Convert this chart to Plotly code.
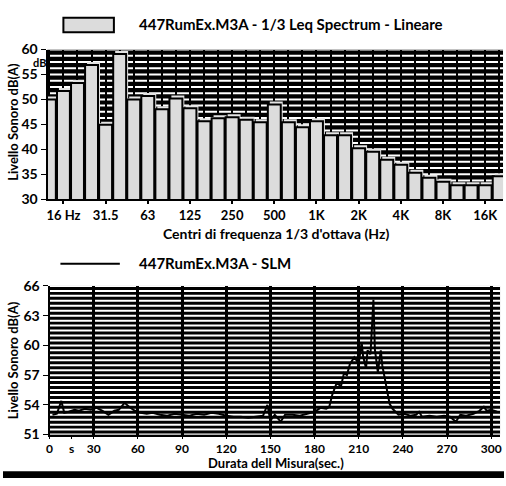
import plotly.graph_objects as go

# ---- data: 1/3 octave Leq spectrum ----
bands = ["12.5", "16", "20", "25", "31.5", "40", "50", "63", "80", "100", "125", "160",
         "200", "250", "315", "400", "500", "630", "800", "1K", "1.25K", "1.6K", "2K",
         "2.5K", "3.15K", "4K", "5K", "6.3K", "8K", "10K", "12.5K", "16K", "20K"]
leq = [50.0, 51.7, 53.3, 56.9, 44.9, 59.1, 50.0, 50.7, 48.0, 50.2, 48.2, 45.6,
       46.2, 46.4, 45.9, 45.4, 49.0, 45.4, 44.4, 45.6, 42.8, 42.8, 40.2,
       39.5, 37.9, 36.9, 35.3, 34.3, 33.5, 32.8, 32.8, 32.8, 34.6]
spec_tick_bands = ["16", "31.5", "63", "125", "250", "500", "1K", "2K", "4K", "8K", "16K"]
spec_tick_text = ["16 Hz", "31.5", "63", "125", "250", "500", "1K", "2K", "4K", "8K", "16K"]
spec_y_ticks = [30, 35, 40, 45, 50, 55, 60]

# ---- data: SLM time history ----
t_sec = [2, 5, 8, 10, 13, 17, 20, 24, 28, 32, 36, 40, 44, 47, 51, 54, 58, 62, 66, 70,
         75, 80, 85, 90, 95, 100, 105, 110, 115, 120, 125, 130, 135, 140, 145, 148,
         150, 153, 157, 160, 165, 170, 175, 180, 184, 188, 190, 192, 195, 198, 200,
         202, 204, 207, 210, 212, 213, 215, 216, 218, 220, 221, 223, 225, 226, 229,
         231, 233, 237, 241, 245, 249, 251, 253, 258, 263, 268, 272, 276, 279, 283,
         288, 292, 295, 297, 300, 304]
slm = [53.0, 53.1, 54.4, 53.2, 53.3, 53.5, 53.4, 53.6, 53.5, 53.7, 53.4, 53.0, 53.4,
       53.5, 54.2, 53.8, 53.4, 53.2, 53.1, 53.2, 53.0, 52.9, 53.1, 53.0, 52.9, 53.1,
       53.0, 53.2, 53.1, 52.9, 52.8, 52.8, 52.7, 52.8, 52.9, 54.0, 52.4, 53.0, 52.3,
       53.0, 53.0, 52.9, 53.1, 53.3, 53.7, 53.6, 53.8, 55.0, 56.2, 55.9, 57.2, 57.0,
       58.1, 58.8, 58.2, 60.3, 58.9, 57.7, 59.5, 59.1, 64.6, 59.6, 57.3, 59.5, 58.0,
       55.7, 54.1, 53.6, 53.0, 53.1, 52.9, 53.0, 53.3, 52.8, 52.9, 52.8, 52.9, 52.8,
       52.3, 53.0, 52.9, 53.1, 53.4, 53.8, 53.4, 53.5, 53.3]
time_ticks = [0, 15, 30, 60, 90, 120, 150, 180, 210, 240, 270, 300]
time_tick_text = ["0", "s", "30", "60", "90", "120", "150", "180", "210", "240", "270", "300"]
time_grid = [0, 30, 60, 90, 120, 150, 180, 210, 240, 270, 300]
slm_y_ticks = [51, 54, 57, 60, 63, 66]

legend1 = "447RumEx.M3A - 1/3 Leq Spectrum - Lineare"
legend2 = "447RumEx.M3A - SLM"
ytitle = "Livello Sonoro dB(A)"
xtitle1 = "Centri di frequenza 1/3 d'ottava (Hz)"
xtitle2 = "Durata dell Misura(sec.)"

W, H = 506, 486
FONT = "Lato"

def px(x):
    return x / W

def py(y):
    return 1 - y / H

band_pos = list(range(len(bands)))
tick_pos = [bands.index(b) for b in spec_tick_bands]

fig = go.Figure()

# shadow bars (light rim above/right of each bar)
fig.add_trace(go.Bar(x=band_pos, y=[v + 0.6 for v in leq], width=0.92, offset=-0.32,
                     marker=dict(color="#e4e4e4", line=dict(width=0)),
                     xaxis="x", yaxis="y", showlegend=False, hoverinfo="skip"))
fig.add_trace(go.Bar(x=band_pos, y=leq, width=0.92, offset=-0.46, customdata=bands,
                     marker=dict(color="#dcdcdc", line=dict(color="black", width=2)),
                     hovertemplate="%{customdata} Hz: %{y} dB<extra></extra>",
                     xaxis="x", yaxis="y", showlegend=False))
fig.add_trace(go.Scatter(x=t_sec, y=slm, mode="lines",
                         line=dict(color="black", width=2),
                         xaxis="x2", yaxis="y2", showlegend=False))

tickfont = dict(family=FONT, size=14, color="black", weight="bold")
tickfontx = dict(family=FONT, size=13, color="black", weight="bold")
tickfont2 = dict(family=FONT, size=12, color="black", weight="bold")
titlefont = dict(family=FONT, size=15, color="black", weight="bold")
titlefont1 = dict(family=FONT, size=14, color="black", weight="bold")
titlefont2 = dict(family=FONT, size=13, color="black", weight="bold")

fig.update_layout(
    width=W, height=H, margin=dict(l=0, r=0, t=0, b=0),
    paper_bgcolor="white", plot_bgcolor="black",
    barmode="overlay", showlegend=False,
    font=dict(family=FONT, color="black"),
    xaxis=dict(domain=[px(45), px(505)], anchor="y",
               range=[-0.13, 32.27], tickmode="array", tickvals=tick_pos,
               ticktext=spec_tick_text, ticks="outside", ticklen=3, tickwidth=2,
               tickcolor="black", showgrid=False, zeroline=False, showline=True,
               linecolor="black", linewidth=2, tickfont=tickfontx,
               minor=dict(dtick=1, tick0=0, showgrid=True, gridcolor="black",
                          gridwidth=2, ticks="")),
    yaxis=dict(domain=[py(197), py(42)], anchor="x", range=[30, 60],
               tickvals=spec_y_ticks, ticks="outside", ticklen=5, tickcolor="black",
               showgrid=False, zeroline=False,
               showline=True, linecolor="black", linewidth=2, tickfont=tickfont),
    xaxis2=dict(domain=[px(47), px(502)], anchor="y2", range=[0, 306],
                tickmode="array", tickvals=time_ticks, ticktext=time_tick_text,
                ticks="outside", ticklen=2, tickcolor="black", showgrid=False,
                zeroline=False, showline=True, linecolor="black", linewidth=2,
                tickfont=tickfont2,
                minor=dict(tickvals=time_grid, showgrid=True, gridcolor="black",
                           gridwidth=3, ticks="")),
    yaxis2=dict(domain=[py(441), py(287)], anchor="x2", range=[51, 66],
                tickvals=slm_y_ticks, ticks="outside", ticklen=5, tickcolor="black",
                showgrid=False, zeroline=False,
                showline=True, linecolor="black", linewidth=2, tickfont=tickfont),
)

shapes = []
# white horizontal stripes (drawn under the black vertical grid lines)
n1 = int(round((60 - 30) / 1.25))
for i in range(n1 + 1):
    yv = 30 + i * 1.25
    shapes.append(dict(type="line", xref="x domain", yref="y", x0=0, x1=1, y0=yv, y1=yv,
                       line=dict(color="white", width=2), layer="below"))
n2 = int(round((66 - 51) / 0.5))
for i in range(n2 + 1):
    yv = 51 + i * 0.5
    shapes.append(dict(type="line", xref="x2 domain", yref="y2", x0=0, x1=1, y0=yv, y1=yv,
                       line=dict(color="white", width=2), layer="below"))
# legend symbols
shapes.append(dict(type="rect", xref="paper", yref="paper", x0=px(61), x1=px(112),
                   y0=py(24), y1=py(9), fillcolor="#dcdcdc",
                   line=dict(color="black", width=2)))
shapes.append(dict(type="line", xref="paper", yref="paper", x0=px(58), x1=px(118),
                   y0=py(264), y1=py(264), line=dict(color="black", width=2)))
# black band at bottom
shapes.append(dict(type="rect", xref="paper", yref="paper", x0=0, x1=1,
                   y0=0, y1=py(479), fillcolor="black", line=dict(width=0)))
fig.update_layout(shapes=shapes)

def note(text, x, y, font, xanchor="center", angle=0):
    fig.add_annotation(text=text, xref="paper", yref="paper", x=x, y=y,
                       xanchor=xanchor, yanchor="middle", textangle=angle,
                       showarrow=False, borderpad=0, font=font)

note(legend1, px(136), py(16), titlefont, xanchor="left")
note(legend2, px(136), py(263), titlefont, xanchor="left")
note(xtitle1, px(276), py(233), titlefont1)
note(xtitle2, px(276), py(470), titlefont2)
note("dB", px(44), py(55.5), dict(family=FONT, size=11, color="black", weight="bold"),
     xanchor="right")
for yc in (117, 364):
    note(ytitle, px(10), py(yc), dict(family=FONT, size=13, color="black", weight="bold"),
         angle=-90)

fig.write_html("out.html")
